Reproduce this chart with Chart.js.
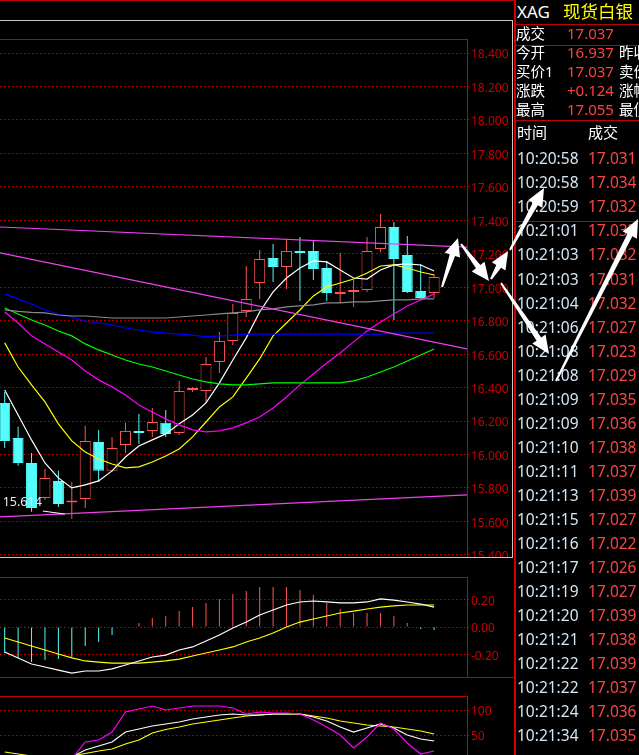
<!DOCTYPE html>
<html lang="zh">
<head>
<meta charset="UTF-8">
<title>XAG 现货白银</title>
<script src="https://cdn.jsdelivr.net/npm/chart.js"></script>
<style>
  html, body { margin: 0; padding: 0; background: #000; width: 639px; height: 755px; overflow: hidden; }
  body { position: relative; font-family: "Noto Sans", "Noto Sans CJK SC", sans-serif; }
  canvas { position: absolute; left: 0; }
  .ln { position: absolute; }
  .t { position: absolute; white-space: nowrap; line-height: 1; }
</style>
</head>
<body>
<canvas id="mainChart" width="513" height="518" style="top:39px"></canvas>
<canvas id="macdChart" width="513" height="100" style="top:577px"></canvas>
<canvas id="kdjChart" width="513" height="80" style="top:696px"></canvas>
<div id="deco"></div>
<canvas id="marks" width="639" height="755" style="top:0;pointer-events:none"></canvas>

<script>
// candles, oldest -> newest
const open  = [16.308,16.099,15.949,15.740,15.842,15.713,15.734,16.075,15.902,16.057,16.141,16.141,16.189,16.129,16.386,16.380,16.553,
               16.679,16.858,17.025,17.175,17.121,17.217,17.217,17.115,16.960,16.972,16.983,17.229,17.360,17.193,16.977,16.966];
const high  = [16.374,16.165,16.009,15.914,15.902,15.836,16.171,16.147,16.105,16.189,16.242,16.278,16.266,16.440,16.404,16.583,16.732,
               16.900,17.127,17.223,17.258,17.288,17.300,17.276,17.157,17.205,17.043,17.300,17.438,17.390,17.306,17.139,17.079];
const low   = [16.039,15.932,15.657,15.728,15.686,15.614,15.680,15.836,15.896,16.009,16.063,16.105,16.105,16.117,16.374,16.308,16.487,
               16.655,16.822,16.930,17.031,16.989,16.918,17.043,16.918,16.906,16.882,16.972,17.211,16.804,16.966,16.930,16.936];
const close = [16.081,15.949,15.680,15.860,15.704,15.725,16.081,15.902,16.039,16.141,16.129,16.194,16.123,16.380,16.398,16.541,16.679,
               16.846,16.930,17.169,17.121,17.217,17.205,17.109,16.966,16.972,16.984,17.217,17.360,17.169,16.972,16.936,17.061];

// moving averages
const ma5   = [16.386,16.236,16.087,15.949,15.860,15.800,15.818,15.842,15.902,15.985,16.051,16.087,16.123,16.183,16.236,16.308,16.428,
               16.565,16.697,16.852,16.972,17.055,17.115,17.157,17.151,17.103,17.055,17.049,17.103,17.133,17.139,17.133,17.097];
const ma10  = [16.667,16.523,16.416,16.314,16.183,16.081,16.015,15.973,15.943,15.920,15.926,15.955,15.991,16.033,16.105,16.194,16.284,
               16.344,16.457,16.571,16.709,16.786,16.864,16.948,17.001,17.025,17.049,17.085,17.127,17.133,17.115,17.091,17.073];
const ma20  = [16.852,16.786,16.709,16.661,16.613,16.565,16.499,16.446,16.404,16.356,16.296,16.254,16.212,16.177,16.147,16.135,16.141,
               16.159,16.189,16.224,16.278,16.344,16.416,16.481,16.547,16.607,16.673,16.738,16.792,16.840,16.888,16.924,16.960];
const ma30  = [16.876,16.840,16.804,16.774,16.738,16.709,16.661,16.625,16.595,16.565,16.541,16.523,16.499,16.475,16.451,16.434,16.422,
               16.416,16.416,16.422,16.428,16.428,16.428,16.428,16.428,16.428,16.440,16.463,16.493,16.523,16.559,16.595,16.631];
const ma60  = [16.960,16.930,16.900,16.864,16.840,16.822,16.798,16.786,16.774,16.756,16.744,16.732,16.726,16.720,16.714,16.703,16.709,
               16.714,16.720,16.720,16.720,16.720,16.720,16.720,16.720,16.720,16.720,16.720,16.720,16.726,16.726,16.726,16.726];
const ma120 = [16.864,16.855,16.849,16.846,16.834,16.828,16.828,16.822,16.816,16.816,16.816,16.816,16.816,16.822,16.828,16.834,16.840,
               16.846,16.852,16.864,16.870,16.882,16.888,16.894,16.906,16.906,16.912,16.912,16.918,16.924,16.924,16.930,16.930];

// drawn trend lines (value at left edge, value at right edge)
const trendUpper = [17.360, 17.240];
const trendMid   = [17.205, 16.631];
const trendLower = [15.627, 15.758];

// MACD
const macdHist = [-0.189,-0.225,-0.255,-0.240,-0.233,-0.218,-0.138,-0.109,-0.058,-0.004,0.029,0.065,0.080,0.116,0.145,0.175,0.204,
                  0.240,0.262,0.291,0.291,0.291,0.269,0.233,0.175,0.131,0.102,0.102,0.102,0.080,0.029,-0.015,-0.022];
const macdDif  = [-0.182,-0.225,-0.269,-0.291,-0.313,-0.335,-0.320,-0.320,-0.305,-0.276,-0.247,-0.218,-0.204,-0.167,-0.145,-0.102,-0.058,
                  -0.007,0.036,0.087,0.124,0.160,0.182,0.189,0.182,0.175,0.175,0.182,0.204,0.196,0.182,0.167,0.145];
const macdDea  = [-0.080,-0.109,-0.138,-0.167,-0.196,-0.225,-0.247,-0.255,-0.262,-0.262,-0.262,-0.255,-0.247,-0.233,-0.211,-0.189,-0.167,
                  -0.145,-0.109,-0.080,-0.044,0.000,0.036,0.058,0.080,0.102,0.116,0.131,0.145,0.153,0.160,0.160,0.160];

// KDJ
const kdjK = [5,3,2,2,3,6,20,28,36,56,62,68,72,76,82,86,90,92,90,90,92,92,92,86,78,66,56,64,72,64,50,42,38];
const kdjD = [16,12,8,6,6,8,13,18,22,32,40,54,61,66,72,76,80,84,88,90,92,92,92,88,84,78,74,70,68,66,62,58,52];
const kdjJ = [2,-5,-8,-5,-2,2,36,40,56,96,102,108,100,104,108,108,108,104,92,96,94,94,92,80,66,50,24,46,74,62,34,12,18];

// axis ticks
const priceTicks = [15.4,15.6,15.8,16.0,16.2,16.4,16.6,16.8,17.0,17.2,17.4,17.6,17.8,18.0,18.2,18.4];
const macdTicks = [-0.2, 0, 0.2];
const macdTickLabels = ['-0.20', '0.00', '0.20'];
const kdjTicks = [0, 50, 100];

// quote panel
const quoteLabels = ['成交', '今开', '买价1', '涨跌', '最高'];
const quoteValues = ['17.037', '16.937', '17.037', '+0.124', '17.055'];
const quoteExtra  = ['', '昨收', '卖价1', '涨幅', '最低'];
const tickTimes = ['10:20:58','10:20:58','10:20:59','10:21:01','10:21:03','10:21:03','10:21:04','10:21:06','10:21:08','10:21:08',
                   '10:21:09','10:21:09','10:21:10','10:21:11','10:21:13','10:21:15','10:21:16','10:21:17','10:21:19','10:21:20',
                   '10:21:21','10:21:22','10:21:22','10:21:24','10:21:34'];
const tickPrices = ['17.031','17.034','17.032','17.033','17.032','17.031','17.032','17.027','17.023','17.029',
                    '17.035','17.036','17.038','17.037','17.039','17.027','17.022','17.026','17.027','17.039',
                    '17.038','17.039','17.037','17.036','17.035'];

const UP = '#ff5454', DOWN = '#54fcfc', AXIS_RED = '#c80000', GRID_RED = '#c80000';
const X_MIN = -0.35, X_MAX = 34.45;

const pts = arr => arr.map((v, i) => ({x: i, y: v}));
const isUp = close.map((c, i) => c >= open[i]);

function xScale() {
    return {type: 'linear', min: X_MIN, max: X_MAX, display: false, offset: false};
}

function yScale(min, max, ticks, label) {
    return {
        position: 'right', min: min, max: max,
        afterFit(s) { s.width = 46; s.paddingTop = 0; s.paddingBottom = 0; },
        afterBuildTicks(s) { s.ticks = ticks.map(v => ({value: v})); },
        grid: {color: GRID_RED, lineWidth: 1, drawTicks: true, tickLength: 3, tickBorderDash: [1, 2]},
        border: {display: true, color: AXIS_RED, width: 1, dash: [1.5, 2.5]},
        ticks: {color: AXIS_RED, padding: 1, labelOffset: 2, font: {family: 'Noto Sans', size: 12},
                callback: (v, i) => label(i)}
    };
}

const line = (data, color, order) => ({
    type: 'line', data: data, borderColor: color, borderWidth: 1.2, pointRadius: 0, tension: 0, order: order
});

const baseOptions = scales => ({
    responsive: false, animation: false, events: [],
    layout: {padding: 0},
    plugins: {legend: {display: false}, tooltip: {enabled: false}},
    scales: scales
});

// marks the lowest low
const lowMarker = {
    id: 'lowMarker',
    afterDatasetsDraw(chart) {
        const i = low.indexOf(Math.min(...low));
        const x = chart.scales.x.getPixelForValue(i);
        const y = chart.scales.y.getPixelForValue(low[i]);
        const ctx = chart.ctx;
        ctx.save();
        ctx.strokeStyle = '#ffffff';
        ctx.lineWidth = 1;
        ctx.beginPath();
        ctx.moveTo(x - 29, y - 8);
        ctx.lineTo(x - 7, y - 5);
        ctx.stroke();
        ctx.fillStyle = '#e4ecf4';
        ctx.font = '12.5px "Noto Sans"';
        ctx.textAlign = 'right';
        ctx.textBaseline = 'middle';
        ctx.fillText(low[i].toFixed(3), x - 30, y - 17);
        ctx.restore();
    }
};

const trend = arr => [{x: X_MIN, y: arr[0]}, {x: X_MAX, y: arr[1]}];

new Chart(document.getElementById('mainChart'), {
    type: 'bar',
    data: {
        datasets: [
            line(trend(trendUpper), '#f040f0', 0),
            line(trend(trendMid), '#f040f0', 0),
            line(trend(trendLower), '#f040f0', 0),
            line(pts(ma120), '#8a8a8a', 0),
            line(pts(ma60), '#0000ff', 0),
            line(pts(ma30), '#00ff00', 0),
            line(pts(ma20), '#ff00ff', 0),
            line(pts(ma10), '#ffff00', 0),
            line(pts(ma5), '#ffffff', 0),
            {
                type: 'bar',
                data: open.map((o, i) => ({x: i, y: [Math.min(o, close[i]), Math.max(o, close[i])]})),
                backgroundColor: isUp.map(u => u ? '#000000' : DOWN),
                borderColor: isUp.map(u => u ? UP : DOWN),
                borderWidth: 1, borderSkipped: false, inflateAmount: 0,
                barThickness: 11, grouped: false, order: 1
            },
            {
                type: 'bar',
                data: low.map((l, i) => ({x: i, y: [l, high[i]]})),
                backgroundColor: isUp.map(u => u ? UP : DOWN),
                borderWidth: 0, inflateAmount: 0,
                barThickness: 1, grouped: false, order: 2
            }
        ]
    },
    options: baseOptions({
        x: xScale(),
        y: yScale(15.387, 18.484, priceTicks, i => priceTicks[i].toFixed(3))
    }),
    plugins: [lowMarker]
});

new Chart(document.getElementById('macdChart'), {
    type: 'bar',
    data: {
        datasets: [
            line(pts(macdDif), '#ffffff', 0),
            line(pts(macdDea), '#ffff00', 0),
            {
                type: 'bar',
                data: pts(macdHist),
                backgroundColor: macdHist.map(v => v >= 0 ? UP : DOWN),
                borderWidth: 0, inflateAmount: 0,
                barThickness: 1, grouped: false, order: 1
            }
        ]
    },
    options: baseOptions({
        x: xScale(),
        y: yScale(-0.3636, 0.3636, macdTicks, i => macdTickLabels[i])
    })
});

new Chart(document.getElementById('kdjChart'), {
    type: 'line',
    data: {
        datasets: [
            line(pts(kdjD), '#ffff00', 2),
            line(pts(kdjK), '#ffffff', 1),
            line(pts(kdjJ), '#ff00ff', 0)
        ]
    },
    options: baseOptions({
        x: xScale(),
        y: yScale(-32, 128, kdjTicks, i => String(kdjTicks[i]))
    })
});

// frame lines and quote panel
const deco = document.getElementById('deco');
function box(x, y, w, h, color) {
    const d = document.createElement('div');
    d.className = 'ln';
    d.style.cssText = `left:${x}px;top:${y}px;width:${w}px;height:${h}px;background:${color}`;
    deco.appendChild(d);
}
function txt(str, x, cy, size, color) {
    const d = document.createElement('div');
    d.className = 't';
    d.textContent = str;
    d.style.cssText = `left:${x}px;top:${cy - size * 0.56}px;font-size:${size}px;color:${color}`;
    deco.appendChild(d);
}

box(0, 0, 514, 1, '#c00000');
box(0, 20, 513, 1, '#c8c8c8');
box(512, 20, 1, 538, '#c8c8c8');
box(0, 39, 468, 1, '#c00000');
box(0, 557, 513, 1, '#c8c8c8');
box(0, 577, 468, 1, '#c00000');
box(0, 677, 514, 1, '#c00000');
box(0, 696, 468, 1, '#c00000');
box(514, 0, 2, 755, '#d00000');
box(516, 24, 123, 1, '#c00000');
box(516, 45, 123, 1, '#c00000');
box(516, 120, 123, 1, '#c00000');
box(516, 221, 123, 1, '#c00000');

txt('XAG', 517, 13, 17, '#ffffff');
txt('现货白银', 563, 13, 17.5, '#ffff00');
quoteLabels.forEach((s, i) => {
    const cy = i === 0 ? 34 : 53 + (i - 1) * 19;
    txt(s, 516, cy, 14.5, '#ffffff');
    txt(quoteValues[i], 567, cy, 15, '#ff4040');
    if (quoteExtra[i]) txt(quoteExtra[i], 619, cy, 14.5, '#ffffff');
});
txt('时间', 517, 133, 15, '#ffffff');
txt('成交', 588, 133, 15, '#ffffff');
tickTimes.forEach((s, i) => {
    const cy = 160 + i * 24.04;
    txt(s, 517, cy, 15.5, '#d4e6f6');
    txt(tickPrices[i], 588, cy, 15.5, '#ff4444');
});

// hand drawn white arrows on top of the screenshot
const mctx = document.getElementById('marks').getContext('2d');
function arrow(x1, y1, x2, y2) {
    const dx = x2 - x1, dy = y2 - y1, len = Math.hypot(dx, dy);
    const ux = dx / len, uy = dy / len, nx = -uy, ny = ux;
    const hl = 18, hw = 8, nw = 2.8, tw = 1;
    const bx = x2 - ux * hl, by = y2 - uy * hl;
    mctx.beginPath();
    mctx.moveTo(x1 + nx * tw, y1 + ny * tw);
    mctx.lineTo(bx + nx * nw, by + ny * nw);
    mctx.lineTo(bx + nx * hw, by + ny * hw);
    mctx.lineTo(x2, y2);
    mctx.lineTo(bx - nx * hw, by - ny * hw);
    mctx.lineTo(bx - nx * nw, by - ny * nw);
    mctx.lineTo(x1 - nx * tw, y1 - ny * tw);
    mctx.closePath();
    mctx.fill();
}
mctx.fillStyle = '#ffffff';
arrow(442, 287, 458, 238);
arrow(461, 244, 489, 281);
arrow(491, 279, 508, 251);
arrow(510, 250, 544, 188);
arrow(501, 283, 549, 354);
arrow(556, 381, 638, 219);
</script>
</body>
</html>
